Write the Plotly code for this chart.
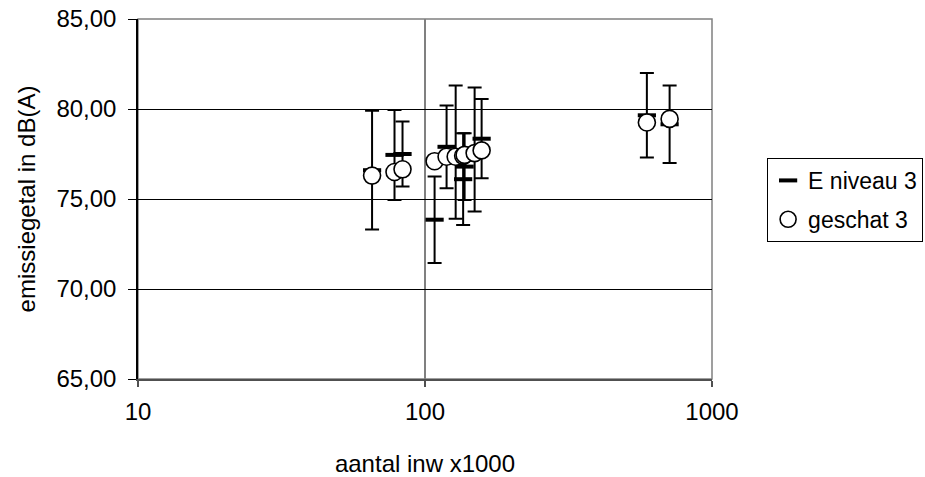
import plotly.graph_objects as go

# data
inw = [65.4, 78.3, 83.5, 108.0, 118.9, 127.9, 135.8, 137.4, 148.9, 157.5, 593.0, 711.7]
e_niveau3 = [76.6, 77.45, 77.5, 73.85, 77.9, 77.6, 76.1, 76.8, 77.75, 78.35, 79.65, 79.15]
e_err = [3.3, 2.5, 1.8, 2.4, 2.3, 3.7, 2.55, 1.85, 3.45, 2.2, 2.35, 2.15]
geschat3 = [76.3, 76.5, 76.65, 77.1, 77.35, 77.35, 77.4, 77.45, 77.55, 77.7, 79.25, 79.45]

x_ticks = [10, 100, 1000]
x_ticktext = ["10", "100", "1000"]
y_ticks = [65, 70, 75, 80, 85]

FONT = "Liberation Sans"
FS = 24

fig = go.Figure()
fig.add_trace(go.Scatter(
    x=inw, y=e_niveau3, mode="markers", name="E niveau 3", legendgroup="a",
    marker=dict(symbol="line-ew", size=13, color="black", line=dict(width=4, color="black")),
    error_y=dict(type="data", array=e_err, symmetric=True, color="black", thickness=2, width=7),
))
fig.add_trace(go.Scatter(
    x=inw, y=geschat3, mode="markers", name="geschat 3", legendgroup="b",
    marker=dict(symbol="circle", size=17, color="white", line=dict(width=1.6, color="black")),
))

fig.update_layout(
    width=925, height=477,
    margin=dict(l=138, r=213, t=19, b=98, autoexpand=False),
    paper_bgcolor="white", plot_bgcolor="white",
    separators=",.",
    font=dict(family=FONT, size=FS, color="black"),
    showlegend=True,
    legend=dict(x=1.096, y=0.614, xanchor="left", yanchor="top",
                bordercolor="black", borderwidth=1, bgcolor="white",
                font=dict(family=FONT, size=23), tracegroupgap=6,
                itemwidth=30, itemsizing="trace"),
    shapes=[dict(type="rect", xref="paper", yref="paper", x0=0, x1=1, y0=0, y1=1,
                 line=dict(color="#808080", width=1.5), layer="below")],
)
fig.update_xaxes(
    type="log", range=[1, 3], tickvals=x_ticks, ticktext=x_ticktext,
    showgrid=True, gridcolor="#808080", gridwidth=1.5,
    showline=True, linecolor="#505050", linewidth=1.5,
    ticks="outside", ticklen=6, tickcolor="#505050", tickwidth=1.5,
    zeroline=False, automargin=False, ticklabelstandoff=4,
    ticklabeloverflow="allow",
    title=dict(text="aantal inw x1000", standoff=41, font=dict(family=FONT, size=FS)),
)
fig.update_yaxes(
    range=[65, 85], tickvals=y_ticks, tickformat=".2f",
    showgrid=True, gridcolor="black", gridwidth=1,
    showline=True, linecolor="black", linewidth=1.5,
    ticks="outside", ticklen=8, tickcolor="black", tickwidth=1,
    ticklabelstandoff=7, zeroline=False, automargin=False,
    ticklabeloverflow="allow",
    title=dict(text="emissiegetal in dB(A)", standoff=14, font=dict(family=FONT, size=FS)),
)

fig.write_html(
    "out.html",
    config={"displayModeBar": False},
    post_script="document.body.style.margin='0';document.body.style.overflow='hidden';",
)
